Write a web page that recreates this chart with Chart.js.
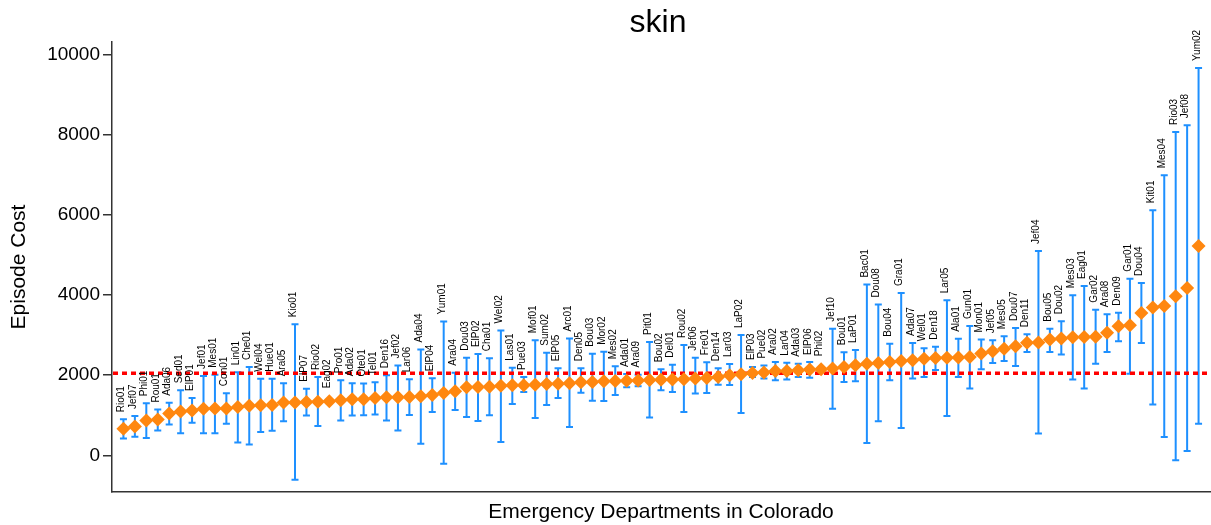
<!DOCTYPE html>
<html><head><meta charset="utf-8">
<script src="https://cdn.jsdelivr.net/npm/chart.js@4.4.0/dist/chart.umd.min.js"></script>
<style>html,body{margin:0;padding:0;background:#fff}#wrap{width:1211px;height:525px}</style>
</head><body><div id="wrap"><canvas id="c" width="1211" height="525"></canvas></div>
<script>
const categories = ["Rio01","Jef07","Phi01","Rou01","Ada06","Sed01","ElP01","Jef01","Mes01","Con01",
"Lin01","Che01","Wel04","Hue01","Ara05","Kio01","ElP07","Rio02","Eag02","Pro01",
"Ada02","Ote01","Tel01","Den16","Jef02","Lar06","Ada04","ElP04","Yum01","Ara04",
"Dou03","ElP02","Cha01","Wel02","Las01","Pue03","Mof01","Sum02","ElP05","Arc01",
"Den05","Bou03","Mor02","Mes02","Ada01","Ara09","Pit01","Bou02","Del01","Rou02",
"Jef06","Fre01","Den14","Lar03","LaP02","ElP03","Pue02","Ara02","Lar04","Ada03",
"ElP06","Phi02","Jef10","Bou01","LaP01","Bac01","Dou08","Bou04","Gra01","Ada07",
"Wel01","Den18","Lar05","Ala01","Gun01","Mon01","Jef05","Mes05","Dou07","Den11",
"Jef04","Bou05","Dou02","Mes03","Eag01","Gar02","Ara08","Den09","Gar01","Dou04",
"Kit01","Mes04","Rio03","Jef08","Yum02"];
const estimates = [660,720,870,890,1040,1090,1120,1160,1165,1170,
1205,1235,1247,1255,1314,1314,1330,1335,1347,1372,
1397,1400,1430,1446,1450,1455,1471,1504,1554,1596,
1696,1704,1712,1737,1746,1750,1762,1779,1782,1796,
1820,1829,1845,1854,1860,1865,1880,1885,1890,1895,
1913,1930,1953,1995,2020,2052,2065,2100,2100,2120,
2137,2145,2162,2202,2244,2286,2303,2327,2352,2369,
2411,2427,2430,2440,2452,2536,2594,2660,2718,2810,
2815,2885,2910,2945,2951,2955,3059,3217,3242,3549,
3683,3723,3965,4172,5219];
const lowerCI = [420,460,430,620,770,550,810,550,550,790,
320,270,580,610,850,-610,990,730,1300,870,
990,1000,1015,870,620,1005,290,1080,-210,1130,
955,855,1000,330,1280,1580,930,1255,1430,705,
1560,1360,1355,1505,1700,1720,945,1620,1580,1080,
1540,1555,1760,1755,1055,1953,1913,1870,1888,1953,
1937,2100,1164,1829,1845,307,848,1870,681,1915,
1950,2130,981,1953,1663,2145,2303,2352,2228,2577,
541,2577,2511,1888,1663,2286,2577,2843,2037,2801,
1264,457,-125,107,790];
const upperCI = [900,980,1300,1140,1310,1620,1430,1980,2010,1550,
2070,2200,1910,1910,1795,3270,1660,1950,1400,1870,
1800,1790,1820,1995,2240,1895,2640,1920,3340,2060,
2435,2525,2420,3115,2185,1950,2870,2560,2170,2910,
2170,2535,2580,2220,2030,2010,2826,2145,2260,2750,
2435,2320,2170,2277,3000,2200,2237,2327,2310,2286,
2327,2190,3159,2570,2625,4257,3758,2785,4048,2800,
2668,2710,3865,2905,3225,2885,2868,2968,3175,3017,
5095,3159,3342,3990,4222,3633,3516,3558,4406,4297,
6110,6983,8063,8229,9658];
const referenceValue = 2045;
const yTicks = [0,2000,4000,6000,8000,10000];
const chartTitle = "skin";
const yTitle = "Episode Cost";
const xTitle = "Emergency Departments in Colorado";

const FONT = '"Liberation Sans", Arial, sans-serif';

const overlay = {
  id: 'overlay',
  beforeDatasetsDraw(chart) {
    const {ctx, chartArea, scales:{x, y}} = chart;
    ctx.save();
    ctx.strokeStyle = '#1E90FF';
    ctx.lineWidth = 2;
    categories.forEach((c, i) => {
      const px = x.getPixelForValue(i + 1);
      const lo = y.getPixelForValue(lowerCI[i]);
      const hi = y.getPixelForValue(upperCI[i]);
      ctx.beginPath();
      ctx.moveTo(px, lo); ctx.lineTo(px, hi);
      ctx.moveTo(px - 3.5, lo); ctx.lineTo(px + 3.5, lo);
      ctx.moveTo(px - 3.5, hi); ctx.lineTo(px + 3.5, hi);
      ctx.stroke();
    });
    const ry = y.getPixelForValue(referenceValue);
    ctx.strokeStyle = '#FF0000';
    ctx.lineWidth = 3.5;
    ctx.setLineDash([5, 4]);
    ctx.beginPath();
    ctx.moveTo(chartArea.left + 1, ry); ctx.lineTo(chartArea.right, ry);
    ctx.stroke();
    ctx.setLineDash([]);
    ctx.fillStyle = '#000';
    ctx.font = '10px ' + FONT;
    ctx.textAlign = 'left';
    ctx.textBaseline = 'alphabetic';
    categories.forEach((c, i) => {
      const px = x.getPixelForValue(i + 1);
      const hi = Math.min(y.getPixelForValue(upperCI[i]), y.getPixelForValue(estimates[i]) - 6);
      ctx.save();
      ctx.translate(px + 1, hi - 7);
      ctx.rotate(-Math.PI / 2);
      ctx.fillText(c, 0, 0);
      ctx.restore();
    });
    ctx.restore();
  },
  afterDraw(chart) {
    const {ctx, chartArea} = chart;
    ctx.save();
    ctx.fillStyle = '#000';
    ctx.textAlign = 'center';
    ctx.textBaseline = 'alphabetic';
    const cx = (chartArea.left + chartArea.right) / 2;
    ctx.font = '32px ' + FONT;
    ctx.fillText(chartTitle, cx - 3, 32);
    ctx.font = '21px ' + FONT;
    ctx.fillText(xTitle, cx, 518);
    ctx.save();
    ctx.translate(25, (chartArea.top + chartArea.bottom) / 2);
    ctx.rotate(-Math.PI / 2);
    ctx.fillText(yTitle, 0, 0);
    ctx.restore();
    ctx.restore();
  }
};

new Chart(document.getElementById('c'), {
  type: 'scatter',
  data: {
    datasets: [{
      data: categories.map((c, i) => ({x: i + 1, y: estimates[i]})),
      pointStyle: 'rectRot',
      pointRadius: 7,
      backgroundColor: '#FF870F',
      borderColor: '#FF870F',
      borderWidth: 0
    }]
  },
  options: {
    responsive: false,
    animation: false,
    devicePixelRatio: 1,
    layout: {autoPadding: false, padding: {top: 42, right: 1, left: 0, bottom: 0}},
    plugins: {legend: {display: false}, tooltip: {enabled: false}, title: {display: false}},
    scales: {
      x: {
        type: 'linear', min: 0, max: 96,
        ticks: {display: false},
        grid: {display: false},
        border: {display: true, color: '#333', width: 1.5},
        afterFit(s) { s.height = 33; }
      },
      y: {
        min: -915, max: 10307,
        afterBuildTicks(s) { s.ticks = yTicks.map(v => ({value: v})); },
        ticks: {color: '#000', font: {family: FONT, size: 19}, padding: 3, callback: v => String(v)},
        grid: {display: true, drawOnChartArea: false, drawTicks: true, tickLength: 9, color: '#333', lineWidth: 1.5},
        border: {display: true, color: '#333', width: 1.5},
        afterFit(s) { s.width = 112; }
      }
    }
  },
  plugins: [overlay]
});
</script>
</body></html>
